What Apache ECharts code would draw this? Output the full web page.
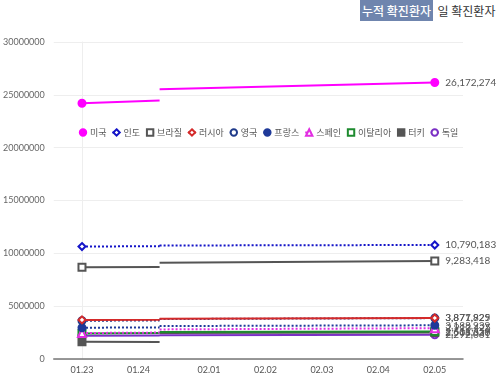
<!DOCTYPE html>
<html>
<head>
<meta charset="utf-8">
<script src="https://cdn.jsdelivr.net/npm/echarts@6/dist/echarts.min.js"></script>
<style>
  html, body { margin: 0; padding: 0; background: #fff; }
  #wrap { position: relative; width: 500px; height: 377px; }
  #chart { position: absolute; left: 0; top: 0; width: 500px; height: 377px; }
  .tab { position: absolute; top: 0; height: 21px; line-height: 21px; font-family: "Noto Sans CJK KR", sans-serif; font-size: 12px; text-align: center; z-index: 2; }
  .tab.on { left: 360px; width: 73px; background: #6f85ae; color: #fff; font-weight: 500; }
  .tab.off { left: 433px; width: 67px; background: #fff; color: #333; }
</style>
</head>
<body>
<div id="wrap">
  <div class="tab on">누적 확진환자</div>
  <div class="tab off">일 확진환자</div>
  <div id="chart"></div>
</div>
<script>
// 날짜 눈금 (x 위치는 슬롯 번호)
var tickLabels = ['01.23', '01.24', '02.01', '02.02', '02.03', '02.04', '02.05'];
var tickSlots = [0, 8, 18, 26, 34, 42, 50];

// 각 나라의 점: 시작, 끊기기 전, 끊긴 뒤, 끝
var pointSlots = [0, 11, 11, 50];

var countries = ['미국', '인도', '브라질', '러시아', '영국', '프랑스', '스페인', '이탈리아', '터키', '독일'];
var usValues      = [24200000, 24470000, 25520000, 26172274];
var indiaValues   = [10640000, 10680000, 10740000, 10790183];
var brazilValues  = [8680000, 8700000, 9110000, 9283418];
var russiaValues  = [3700000, 3720000, 3800000, 3877929];
var ukValues      = [3620000, 3650000, 3780000, 3871825];
var franceValues  = [2960000, 2990000, 3120000, 3188939];
var spainValues   = [2460000, 2500000, 2800000, 2913425];
var italyValues   = [2420000, 2450000, 2560000, 2611659];
var turkeyValues  = [1640000, 1620000, 2470000, 2508330];
var germanyValues = [2200000, 2230000, 2240000, 2292061];

var seriesValues = [usValues, indiaValues, brazilValues, russiaValues, ukValues,
  franceValues, spainValues, italyValues, turkeyValues, germanyValues];

var styles = [
  { color: '#f0f', symbol: 'circle', fill: true, type: 'solid' },
  { color: '#1414c8', symbol: 'diamond', fill: false, type: 'dotted' },
  { color: '#555', symbol: 'rect', fill: false, type: 'solid' },
  { color: '#d42a2a', symbol: 'diamond', fill: false, type: 'solid' },
  { color: '#1f3a8a', symbol: 'circle', fill: false, type: 'dotted' },
  { color: '#1f3a99', symbol: 'circle', fill: true, type: 'dotted' },
  { color: '#e22ee2', symbol: 'triangle', fill: false, type: 'dotted' },
  { color: '#1d8a2e', symbol: 'rect', fill: false, type: 'solid' },
  { color: '#555', symbol: 'rect', fill: true, type: 'solid' },
  { color: '#7a2fc4', symbol: 'circle', fill: false, type: 'solid' }
];

function fmt(v) {
  return String(v).replace(/\B(?=(\d{3})+(?!\d))/g, ',');
}

var chart = echarts.init(document.getElementById('chart'), null, { renderer: 'canvas' });

var series = countries.map(function (name, i) {
  var st = styles[i];
  var vals = seriesValues[i];
  var data = [];
  for (var k = 0; k < vals.length; k++) {
    var item = { value: [pointSlots[k], vals[k]] };
    if (k === 1 || k === 2) item.symbol = 'none';
    if (k === vals.length - 1) {
      item.label = { show: true, position: 'right', distance: 6, formatter: fmt(vals[k]),
        color: '#555', fontSize: 10, fontFamily: 'Lato, sans-serif' };
    }
    data.push(item);
    // 선 끊기
    if (k === 1) data.push({ value: [pointSlots[k], null], symbol: 'none' });
  }
  return {
    name: name,
    type: 'line',
    symbol: st.symbol,
    symbolSize: st.symbol === 'triangle' ? 8 : 7,
    connectNulls: false,
    lineStyle: { color: st.color, width: 2, type: st.type },
    itemStyle: { color: st.fill ? st.color : '#fff', borderColor: st.color, borderWidth: 2 },
    z: 10 - i,
    data: data
  };
});

var option = {
  animation: false,
  grid: { left: 47, right: 37, top: 42, bottom: 18 },
  legend: {
    top: 123,
    left: 73,
    width: 420,
    itemWidth: 8,
    itemHeight: 8,
    itemGap: 5,
    textStyle: { color: '#555', fontSize: 9, fontFamily: 'Noto Sans CJK KR', padding: [0, 0, 0, -2] },
    data: countries
  },
  xAxis: {
    type: 'value',
    min: -4,
    max: 54,
    interval: 1,
    axisLine: { show: true, onZero: false, lineStyle: { color: '#777', width: 1.5 } },
    axisTick: { show: false },
    splitLine: { show: false },
    axisLabel: {
      color: '#555', fontSize: 9, fontFamily: 'Lato, sans-serif', margin: 7,
      showMinLabel: true, showMaxLabel: true,
      formatter: function (v) {
        var idx = tickSlots.indexOf(v);
        return idx >= 0 ? tickLabels[idx] : '';
      }
    }
  },
  yAxis: {
    type: 'value',
    min: 0,
    max: 30000000,
    interval: 5000000,
    axisLine: { show: true, lineStyle: { color: '#eee' } },
    axisTick: { show: false },
    splitLine: { lineStyle: { color: '#eee' } },
    axisLabel: { color: '#666', fontSize: 9, fontFamily: 'Lato, sans-serif', margin: 9,
      formatter: function (v) { return String(v); } }
  },
  series: series
};

chart.setOption(option);
window.addEventListener('resize', chart.resize);
</script>
</body>
</html>
